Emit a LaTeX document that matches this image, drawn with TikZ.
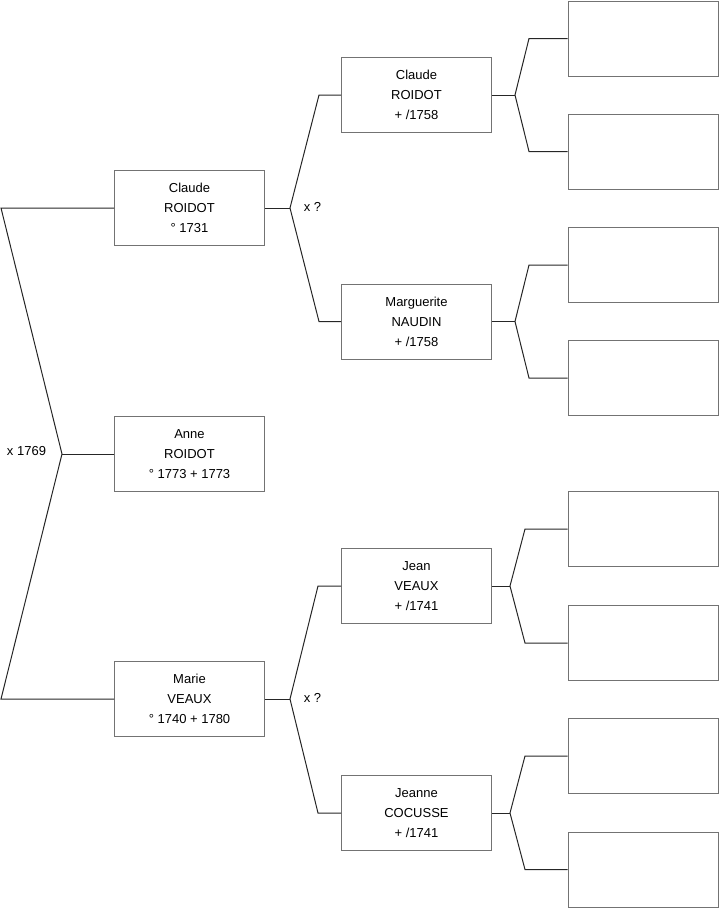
\documentclass[tikz,border=0pt]{standalone}
\usepackage{fontspec}
\setmainfont{Liberation Sans}
\begin{document}
\begin{tikzpicture}[x=1pt,y=-1pt,
  person/.style={draw=black!55, line width=1pt, minimum width=150pt, minimum height=75pt, align=center, font=\fontsize{13}{20}\selectfont, inner sep=0pt},
  link/.style={draw=black!85, line width=1pt},
  lbl/.style={font=\fontsize{13}{14}\selectfont, inner sep=0pt}]
\useasboundingbox (0,0) rectangle (719,908);
% first generation
\node[person] (claude) at (189.5,208) {Claude\\ROIDOT\\° 1731};
\node[person] (anne) at (189.5,454) {Anne\\ROIDOT\\° 1773 + 1773};
\node[person] (marie) at (189.5,699) {Marie\\VEAUX\\° 1740 + 1780};
% parents
\node[person] (claudep) at (416.5,95) {Claude\\ROIDOT\\+ /1758};
\node[person] (marguerite) at (416.5,321.5) {Marguerite\\NAUDIN\\+ /1758};
\node[person] (jean) at (416.5,586) {Jean\\VEAUX\\+ /1741};
\node[person] (jeanne) at (416.5,813) {Jeanne\\COCUSSE\\+ /1741};
% grandparents
\node[person] (e1) at (643,38.5) {};
\node[person] (e2) at (643,151.5) {};
\node[person] (e3) at (643,265) {};
\node[person] (e4) at (643,378) {};
\node[person] (e5) at (643,529) {};
\node[person] (e6) at (643,643) {};
\node[person] (e7) at (643,756) {};
\node[person] (e8) at (643,869.5) {};
% marriage labels
\node[lbl] (m1) at (26.5,451) {x 1769};
\node[lbl] (m2) at (312.5,207) {x ?};
\node[lbl] (m3) at (312.5,698) {x ?};
% forks
\coordinate (ft) at (1,208);
\coordinate (fm) at (62,454);
\coordinate (fb) at (1,699);
\coordinate (f1) at (290,208);
\coordinate (f1a) at (319,95);
\coordinate (f1b) at (319,321.5);
\coordinate (f2) at (290,699);
\coordinate (f2a) at (318,586);
\coordinate (f2b) at (318,813);
\coordinate (g1) at (515,95);
\coordinate (g1a) at (529,38.5);
\coordinate (g1b) at (529,151.5);
\coordinate (g2) at (515,321.5);
\coordinate (g2a) at (529,265);
\coordinate (g2b) at (529,378);
\coordinate (g3) at (510,586);
\coordinate (g3a) at (525,529);
\coordinate (g3b) at (525,643);
\coordinate (g4) at (510,813);
\coordinate (g4a) at (525,756);
\coordinate (g4b) at (525,869.5);
% connectors
\draw[link] (claude.west) -- (ft) -- (fm) -- (fb) -- (marie.west);
\draw[link] (fm) -- (anne.west);
\draw[link] (claude.east) -- (f1);
\draw[link] (claudep.west) -- (f1a) -- (f1) -- (f1b) -- (marguerite.west);
\draw[link] (marie.east) -- (f2);
\draw[link] (jean.west) -- (f2a) -- (f2) -- (f2b) -- (jeanne.west);
\draw[link] (claudep.east) -- (g1);
\draw[link] (e1.west) -- (g1a) -- (g1) -- (g1b) -- (e2.west);
\draw[link] (marguerite.east) -- (g2);
\draw[link] (e3.west) -- (g2a) -- (g2) -- (g2b) -- (e4.west);
\draw[link] (jean.east) -- (g3);
\draw[link] (e5.west) -- (g3a) -- (g3) -- (g3b) -- (e6.west);
\draw[link] (jeanne.east) -- (g4);
\draw[link] (e7.west) -- (g4a) -- (g4) -- (g4b) -- (e8.west);
\end{tikzpicture}
\end{document}
